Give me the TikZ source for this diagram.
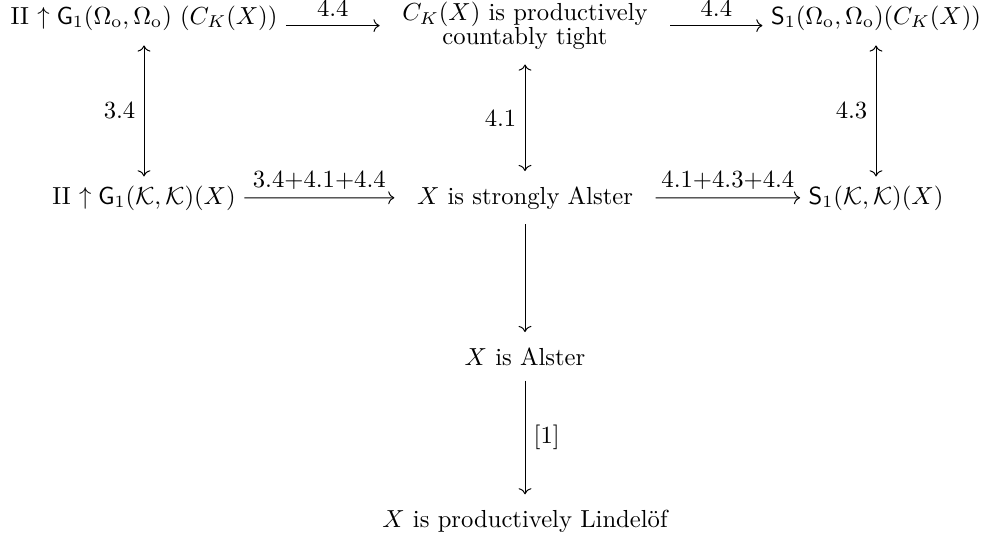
\documentclass[tikz,border=0pt]{standalone}
\usetikzlibrary{arrows.meta}

\begin{document}
\begin{tikzpicture}[
  x=0.4057pt, y=-0.4057pt,
  obj/.style={inner xsep=3.3pt, inner ysep=6pt},
  midobj/.style={obj, inner xsep=9pt, align=center},
  ar/.style={-{To}},
  biar/.style={{To}-{To}}
]
\useasboundingbox (0,0) rectangle (985,535);

% top row
\node[obj, anchor=base] (gOmega) at (144,24) {II $\uparrow \mathsf{G}_1(\Omega_{\mathrm{o}},\Omega_{\mathrm{o}})$ $(C_K(X))$};
\node[midobj] (ctight) at (525,25.6) {$C_K(X)$ is productively\\[-2.4pt] countably tight};
\node[obj, anchor=base] (sOmega) at (876,24) {$\mathsf{S}_1(\Omega_{\mathrm{o}},\Omega_{\mathrm{o}})(C_K(X))$};

% second row
\node[obj, inner ysep=3.5pt, anchor=base] (gK) at (144,204) {II $\uparrow \mathsf{G}_1(\mathcal{K},\mathcal{K})(X)$};
\node[midobj, anchor=base] (salster) at (525,204) {$X$ is strongly Alster};
\node[obj, inner ysep=3.5pt, anchor=base] (sK) at (876,204) {$\mathsf{S}_1(\mathcal{K},\mathcal{K})(X)$};

% middle column going down
\node[midobj, anchor=base] (alster) at (525,365) {$X$ is Alster};
\node[midobj, anchor=base] (lindelof) at (525,527) {$X$ is productively Lindel\"of};

\draw[ar] (gOmega.east |- ctight.west) -- node[above] {4.4} (ctight.west);
\draw[ar] (ctight.east) -- node[above] {4.4} (sOmega.west |- ctight.east);
\draw[biar] (gOmega) -- node[left] {3.4} (gK);
\draw[biar] (ctight) -- node[left] {4.1} (salster);
\draw[biar] (sOmega) -- node[left] {4.3} (sK);
\draw[ar] (gK) -- node[above] {3.4+4.1+4.4} (salster);
\draw[ar] (salster) -- node[above] {4.1+4.3+4.4} (sK);
\draw[ar] (salster) -- (alster);
\draw[ar] (alster) -- node[right] {[1]} (lindelof);
\end{tikzpicture}
\end{document}
